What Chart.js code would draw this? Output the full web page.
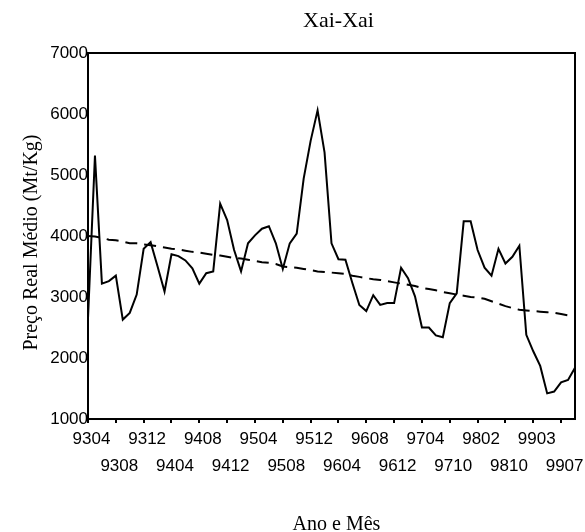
<!DOCTYPE html>
<html>
<head>
<meta charset="utf-8">
<script src="https://cdn.jsdelivr.net/npm/chart.js@4.4.0/dist/chart.umd.min.js"></script>
<style>
  html, body { margin: 0; padding: 0; background: #fff; }
  #grafico { display: block; }
</style>
</head>
<body>
<canvas id="grafico" width="585" height="532"></canvas>
<script>
// ---------------------------------------------------------------------------
// Dados
// ---------------------------------------------------------------------------
const titulo = "Xai-Xai";
const tituloEixoX = "Ano e Mês";
const tituloEixoY = "Preço Real Médio (Mt/Kg)";

// meses da série (aaMM); só um em cada quatro aparece no eixo
const meses = [
  "9304", "9305", "9306", "9307", "9308", "9309", "9310", "9311",
  "9312", "9401", "9402", "9403", "9404", "9405", "9406", "9407",
  "9408", "9409", "9410", "9411", "9412", "9501", "9502", "9503",
  "9504", "9505", "9506", "9507", "9508", "9509", "9510", "9511",
  "9512", "9601", "9602", "9603", "9604", "9605", "9606", "9607",
  "9608", "9609", "9610", "9611", "9612", "9701", "9702", "9703",
  "9704", "9705", "9706", "9708", "9710", "9711", "9712", "9801",
  "9802", "9803", "9805", "9807", "9810", "9811", "9901", "9902",
  "9903", "9904", "9905", "9906", "9907", "9908", "9909"
];

// preço real médio (Mt/Kg)
const precoReal = [
  2650, 5320, 3220, 3260, 3350, 2630, 2740, 3040,
  3790, 3900, 3500, 3090, 3700, 3670, 3600, 3470,
  3220, 3390, 3420, 4530, 4260, 3770, 3420, 3880,
  4010, 4120, 4160, 3880, 3460, 3880, 4040, 4940,
  5560, 6060, 5370, 3880, 3620, 3610, 3230, 2870,
  2770, 3030, 2870, 2900, 2900, 3480, 3310, 3010,
  2500, 2500, 2370, 2340, 2900, 3060, 4240, 4240,
  3770, 3480, 3350, 3790, 3550, 3660, 3840, 2380,
  2110, 1870, 1420, 1450, 1600, 1640, 1840
];

// linha de tendência (tracejada)
const tendencia = [
  4000, 3990, 3970, 3940, 3930, 3910, 3880, 3880,
  3860, 3850, 3830, 3810, 3790, 3780, 3760, 3740,
  3730, 3710, 3690, 3680, 3660, 3640, 3630, 3610,
  3590, 3570, 3560, 3540, 3500, 3490, 3480, 3460,
  3440, 3420, 3410, 3400, 3390, 3380, 3350, 3330,
  3310, 3290, 3280, 3260, 3240, 3220, 3200, 3180,
  3150, 3130, 3110, 3080, 3060, 3040, 3020, 3000,
  2990, 2970, 2930, 2890, 2850, 2820, 2790, 2780,
  2770, 2760, 2750, 2740, 2720, 2700, 2690
];

const ticksY = [1000, 2000, 3000, 4000, 5000, 6000, 7000];

const fonteSans = '"Liberation Sans", Arial, sans-serif';
const fonteSerif = '"Liberation Serif", "Times New Roman", serif';

// ---------------------------------------------------------------------------
// Moldura e textos (título e nomes dos eixos)
// ---------------------------------------------------------------------------
const molduraETextos = {
  id: "molduraETextos",
  afterDraw(chart) {
    const { ctx, chartArea } = chart;
    const meioX = (chartArea.left + chartArea.right) / 2;
    const meioY = (chartArea.top + chartArea.bottom) / 2;

    ctx.save();
    ctx.strokeStyle = "#000";
    ctx.lineWidth = 2;
    ctx.strokeRect(chartArea.left, chartArea.top,
      chartArea.right - chartArea.left, chartArea.bottom - chartArea.top);

    ctx.fillStyle = "#000";
    ctx.textAlign = "center";
    ctx.textBaseline = "alphabetic";

    ctx.font = "22px " + fonteSerif;
    ctx.fillText(titulo, meioX + 7, 26.7);

    ctx.font = "20px " + fonteSerif;
    ctx.fillText(tituloEixoX, meioX + 5, 529.5);

    ctx.translate(37.3, meioY + 6.5);
    ctx.rotate(-Math.PI / 2);
    ctx.fillText(tituloEixoY, 0, 0);
    ctx.restore();
  }
};

// ---------------------------------------------------------------------------
// Gráfico
// ---------------------------------------------------------------------------
const ctx = document.getElementById("grafico").getContext("2d");

new Chart(ctx, {
  type: "line",
  data: {
    labels: meses,
    datasets: [
      {
        label: "Preço real",
        data: precoReal,
        borderColor: "#000",
        borderWidth: 2,
        pointRadius: 0,
        tension: 0,
        fill: false
      },
      {
        label: "Tendência",
        data: tendencia,
        borderColor: "#000",
        borderWidth: 2,
        borderDash: [12, 7],
        pointRadius: 0,
        tension: 0,
        fill: false
      }
    ]
  },
  options: {
    responsive: false,
    animation: false,
    layout: {
      padding: { top: 53, right: 10, bottom: 49, left: 0 }
    },
    plugins: {
      legend: { display: false },
      tooltip: { enabled: false },
      title: { display: false }
    },
    scales: {
      x: {
        type: "category",
        offset: false,
        border: { display: false },
        grid: {
          drawOnChartArea: false,
          drawTicks: true,
          tickLength: 4,
          lineWidth: 2,
          tickColor: c => (c.index % 4 === 0 ? "#000" : "rgba(0,0,0,0)")
        },
        ticks: {
          autoSkip: false,
          maxRotation: 0,
          minRotation: 0,
          padding: 3,
          labelOffset: 3.5,
          color: "#000",
          font: { family: fonteSans, size: 17, lineHeight: 1.588 },
          callback: function (value, index) {
            if (index % 4 !== 0) return "";
            const txt = this.getLabelForValue(value);
            return (index / 4) % 2 === 0 ? [txt, ""] : ["", txt];
          }
        }
      },
      y: {
        min: ticksY[0],
        max: ticksY[ticksY.length - 1],
        border: { display: false },
        grid: { display: false, drawTicks: false },
        afterFit: scale => { scale.width = 88; },
        ticks: {
          stepSize: 1000,
          padding: 0,
          color: "#000",
          font: { family: fonteSans, size: 17 },
          callback: v => (ticksY.includes(v) ? String(v) : "")
        }
      }
    }
  },
  plugins: [molduraETextos]
});
</script>
</body>
</html>
